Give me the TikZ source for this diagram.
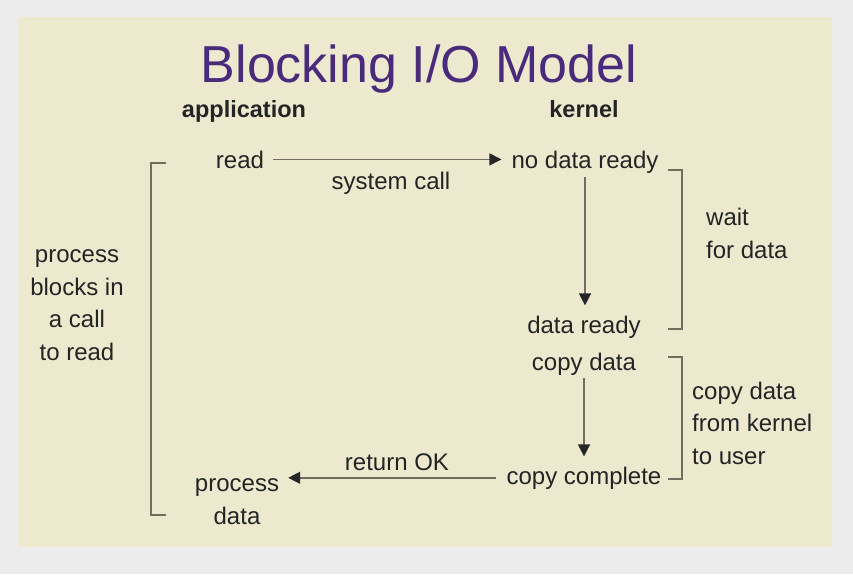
\documentclass[tikz,border=0pt]{standalone}
\usepackage{fontspec}
\setmainfont{Liberation Sans}
\usetikzlibrary{arrows.meta}
\definecolor{pagebg}{RGB}{236,236,236}
\definecolor{slidebg}{RGB}{236,233,207}
\definecolor{titlec}{RGB}{74,42,122}
\definecolor{inkc}{RGB}{36,36,36}
\definecolor{linec}{RGB}{112,110,96}
\tikzset{
  headline/.style={font=\fontsize{52}{60}\selectfont, text=titlec, inner sep=0pt, anchor=base},
  colhead/.style={font=\fontsize{23.5}{28}\selectfont\bfseries, text=inkc, inner sep=0pt, anchor=base},
  txt/.style={font=\fontsize{24}{32.5}\selectfont, text=inkc, inner sep=0pt, anchor=base},
  sidetxt/.style={txt, align=left, anchor=base west},
  blocktxt/.style={txt, align=center},
  flow/.style={-{Triangle[length=12pt, width=12pt, color=black!85]}, line width=1.4pt, linec},
  brk/.style={line width=1.3pt, linec}
}

\begin{document}
\begin{tikzpicture}[x=1pt, y=-1pt]
\fill[pagebg] (0,0) rectangle (853,574);
\fill[slidebg] (18,17) rectangle (832,547);
% headings
\node[headline] (title) at (419,82) {Blocking I/O Model};
\node[colhead] (app) at (244,117) {application};
\node[colhead] (kern) at (584,117) {kernel};
% steps
\node[txt] (read) at (240,168) {read};
\node[txt] (nodata) at (585,168) {no data ready};
\node[txt] (syscall) at (391,189) {system call};
\node[txt] (dready) at (584,333) {data ready};
\node[txt] (cdata) at (584,370) {copy data};
\node[txt] (ccomp) at (584,484) {copy complete};
\node[txt] (retok) at (397,470) {return OK};
\node[blocktxt] (proc) at (237,524) {process\\data};
% side notes (base = last line)
\node[blocktxt] (blocked) at (77,360) {process\\blocks in\\a call\\to read};
\node[sidetxt] (waitnote) at (706,258) {wait\\for data};
\node[sidetxt] (copynote) at (692,464) {copy data\\from kernel\\to user};
% arrows
\draw[flow, shorten <=9pt, shorten >=10pt] (read.east) -- (read.east -| nodata.west);
\draw[flow, shorten <=4pt, shorten >=10pt] (nodata.south) -- (nodata.south |- dready.north);
\draw[flow, shorten <=3pt, shorten >=10pt] (cdata.south) -- (cdata.south |- ccomp.north);
\draw[flow, shorten <=10pt, shorten >=9pt] (ccomp.west) -- (ccomp.west -| proc.east);
% brackets
\draw[brk] (166,163) -- (151,163) -- (151,515) -- (166,515);
\draw[brk] (668,170) -- (682,170) -- (682,329) -- (668,329);
\draw[brk] (668,357) -- (682,357) -- (682,479) -- (668,479);
\end{tikzpicture}
\end{document}
